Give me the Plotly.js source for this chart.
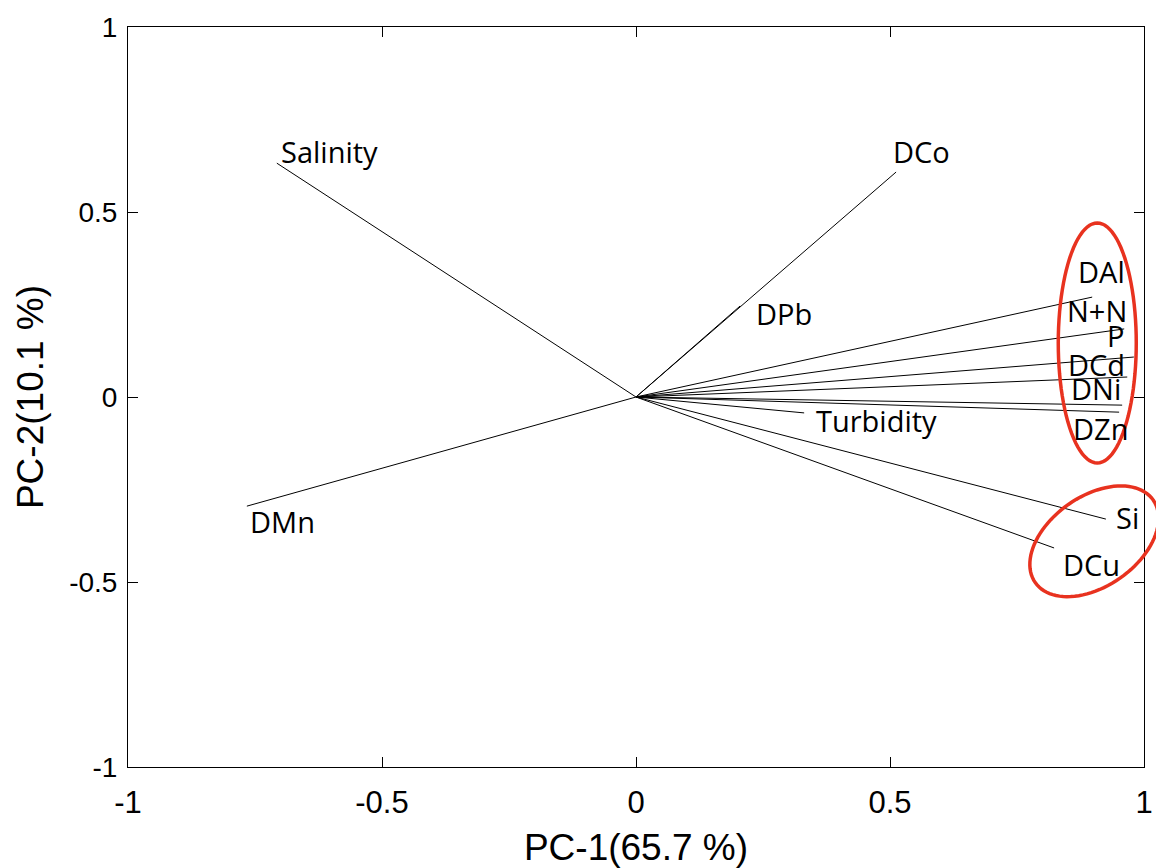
<!DOCTYPE html>
<html>
<head>
<meta charset="utf-8">
<script src="https://cdn.plot.ly/plotly-3.0.1.min.js"></script>
<style>
  html, body { margin: 0; padding: 0; background: #ffffff; }
  #chart { width: 1156px; height: 868px; }
</style>
</head>
<body>
<div id="chart"></div>
<script>
// PCA loadings of the water-quality variables on the first two components
const variables = ['Salinity', 'DCo', 'DPb', 'DMn', 'Turbidity', 'DAl', 'N+N', 'P', 'DCd', 'DNi', 'DZn', 'Si', 'DCu'];
const pc1 = [-0.707, 0.512, 0.205, -0.766, 0.331, 0.898, 0.961, 0.980, 0.967, 0.957, 0.951, 0.925, 0.823];
const pc2 = [0.632, 0.608, 0.246, -0.295, -0.043, 0.270, 0.184, 0.108, 0.054, -0.022, -0.041, -0.330, -0.408];

// Tick labels (plain hyphen minus sign)
const tickValues = [-1, -0.5, 0, 0.5, 1];
const tickLabels = ['-1', '-0.5', '0', '0.5', '1'];

// Pixel offsets of each variable name from the tip of its vector
const labelDx = [2, -5, 14, 1, 10, -16, -59, -29, -61, -53, -48, 8, 7];
const labelDy = [12, 21, -8, -15, -8, 26, 18, 22, 13, 17, -16, 2, -17];

// One polyline per loading vector, each starting at the origin
const lx = [], ly = [];
for (let i = 0; i < variables.length; i++) {
  lx.push(0, pc1[i], null);
  ly.push(0, pc2[i], null);
}

const vectors = {
  type: 'scatter',
  mode: 'lines',
  x: lx,
  y: ly,
  line: { color: '#000000', width: 1 },
  hoverinfo: 'skip',
  showlegend: false
};

const annotations = variables.map((name, i) => ({
  x: pc1[i], y: pc2[i], xref: 'x', yref: 'y',
  text: name, showarrow: false,
  xanchor: 'left', yanchor: 'middle',
  xshift: labelDx[i], yshift: labelDy[i],
  font: { family: 'Open Sans, sans-serif', size: 29, color: '#000000' }
}));

// Ellipse outline as a pixel-space path, rotated by angle (degrees, counter-clockwise)
function ellipsePath(a, b, angleDeg) {
  const t = angleDeg * Math.PI / 180;
  const pts = [];
  for (let k = 0; k <= 96; k++) {
    const u = 2 * Math.PI * k / 96;
    const ex = a * Math.cos(u), ey = b * Math.sin(u);
    const px = ex * Math.cos(t) - ey * Math.sin(t);
    const py = ex * Math.sin(t) + ey * Math.cos(t);
    pts.push((k === 0 ? 'M' : 'L') + px.toFixed(2) + ',' + py.toFixed(2));
  }
  return pts.join(' ') + ' Z';
}

const ringStyle = { color: '#e8321f', width: 3.5 };
const shapes = [
  {
    type: 'path', xref: 'paper', yref: 'paper',
    xsizemode: 'pixel', ysizemode: 'pixel',
    xanchor: 0.954, yanchor: 0.573,
    path: ellipsePath(39, 120, 0),
    line: ringStyle, layer: 'above'
  },
  {
    type: 'path', xref: 'paper', yref: 'paper',
    xsizemode: 'pixel', ysizemode: 'pixel',
    xanchor: 0.951, yanchor: 0.305,
    path: ellipsePath(72, 45, 35),
    line: ringStyle, layer: 'above'
  }
];

const axisCommon = {
  range: [-1, 1],
  tickmode: 'array',
  tickvals: tickValues,
  ticktext: tickLabels,
  ticks: 'inside',
  ticklen: 10,
  tickwidth: 1,
  tickcolor: '#000000',
  showline: true,
  linecolor: '#000000',
  linewidth: 1,
  mirror: 'ticks',
  showgrid: false,
  zeroline: false,
  fixedrange: true
};

const layout = {
  width: 1156,
  height: 868,
  margin: { l: 128, r: 12, t: 27, b: 101 },
  paper_bgcolor: '#ffffff',
  plot_bgcolor: '#ffffff',
  showlegend: false,
  xaxis: Object.assign({}, axisCommon, {
    tickfont: { family: 'Liberation Sans, Arial, sans-serif', size: 31, color: '#000000' },
    ticklabelstandoff: 8,
    title: { text: 'PC-1(65.7 %)', standoff: 20,
      font: { family: 'Liberation Sans, Arial, sans-serif', size: 37, color: '#000000' } }
  }),
  yaxis: Object.assign({}, axisCommon, {
    tickfont: { family: 'Liberation Sans, Arial, sans-serif', size: 28, color: '#000000' },
    ticklabelstandoff: 4,
    title: { text: 'PC-2(10.1 %)', standoff: 14,
      font: { family: 'Liberation Sans, Arial, sans-serif', size: 37, color: '#000000' } }
  }),
  annotations: annotations,
  shapes: shapes
};

Plotly.newPlot('chart', [vectors], layout, { displayModeBar: false, staticPlot: true });
</script>
</body>
</html>
